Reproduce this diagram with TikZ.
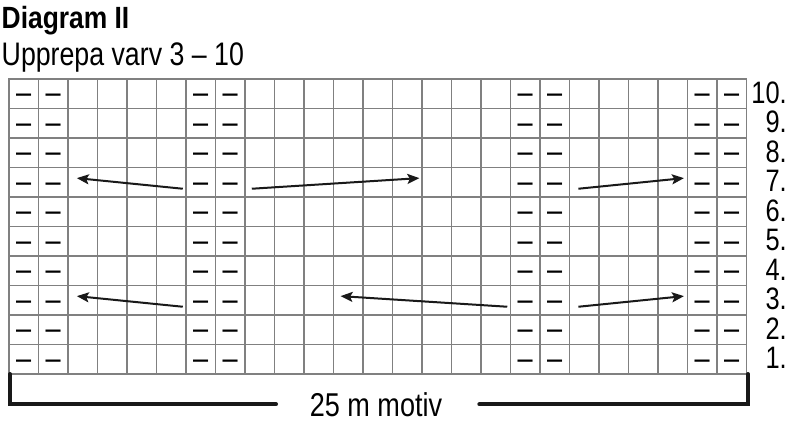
\documentclass[tikz,border=0pt]{standalone}
\usepackage{fontspec}
\usepackage{tikz}
\usetikzlibrary{arrows.meta, positioning, calc}
\newfontfamily\narrowsf{Liberation Sans}[FakeStretch=0.82]
\newfontfamily\narrowbf{Liberation Sans}[FakeStretch=0.86]

\begin{document}
\begin{tikzpicture}[
    x=1pt, y=-1pt,
    gridln/.style={draw=black!50, line width=1.3pt, line cap=rect},
    purl/.style={font=\narrowsf\fontsize{33}{36}\selectfont, anchor=base, inner sep=0pt, yshift=-10pt},
    rowlbl/.style={font=\narrowsf\fontsize{31}{34}\selectfont, anchor=base east, inner sep=0pt, yshift=-9.5pt},
    ttl/.style={anchor=base west, inner sep=0pt},
    arr/.style={-{Stealth[length=12pt, width=10pt, inset=2.5pt]}, draw=black!90, line width=2pt},
    brace/.style={draw=black!90, line width=4pt, line cap=round}
]
\useasboundingbox (0,0) rectangle (789,427);

\node[ttl, font=\narrowbf\bfseries\fontsize{30.7}{34}\selectfont] (title) at (1.5,28.3) {Diagram II};
\node[ttl, font=\narrowsf\fontsize{32.6}{36}\selectfont] (repeat) at (1.5,65.7) {Upprepa varv 3 – 10};

% chart, one unit = one stitch
\begin{scope}[shift={(9,374)}, x=29.5pt, y=29.5pt]
\foreach \i in {0,...,25} \draw[gridln] (\i,0) -- (\i,10);
\foreach \j in {0,...,10} \draw[gridln] (0,\j) -- (25,\j);

\foreach \r in {1,...,10}{
  \foreach \c in {1,2,7,8,18,19,24,25}
    \node[purl] (p\c-\r) at (\c-0.5,\r-0.5) {–};
  \node[rowlbl] (n\r) at (26.37,\r-0.5) {\r.};
}

\coordinate (a7l-t) at (5.89,6.28);
\coordinate (a7l-h) at (2.30,6.64);
\coordinate (a7m-t) at (8.23,6.28);
\coordinate (a7m-h) at (13.91,6.64);
\coordinate (a7r-t) at (19.30,6.28);
\coordinate (a7r-h) at (22.88,6.64);
\coordinate (a3l-t) at (5.89,2.28);
\coordinate (a3l-h) at (2.30,2.64);
\coordinate (a3m-t) at (16.89,2.28);
\coordinate (a3m-h) at (11.24,2.64);
\coordinate (a3r-t) at (19.30,2.28);
\coordinate (a3r-h) at (22.88,2.64);

\draw[arr] (a7l-t) -- (a7l-h);
\draw[arr] (a7m-t) -- (a7m-h);
\draw[arr] (a7r-t) -- (a7r-h);
\draw[arr] (a3l-t) -- (a3l-h);
\draw[arr] (a3m-t) -- (a3m-h);
\draw[arr] (a3r-t) -- (a3r-h);
\end{scope}

\node[anchor=base, inner sep=0pt, font=\narrowsf\fontsize{33}{36}\selectfont] (motiv) at (376,416.7) {25 m motiv};

\coordinate (bl) at (10,374);
\coordinate (br) at (748,374);
\coordinate (bll) at (276,404.3);
\coordinate (brr) at (479.3,404.3);
\draw[brace] (bl) |- (bll);
\draw[brace] (br) |- (brr);
\end{tikzpicture}
\end{document}
